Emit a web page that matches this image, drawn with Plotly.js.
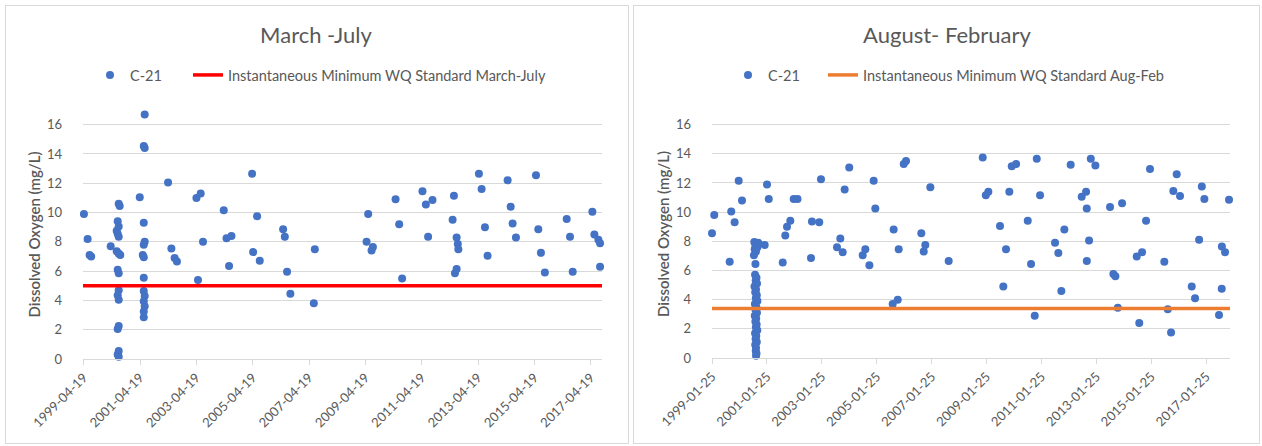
<!DOCTYPE html>
<html>
<head>
<meta charset="utf-8">
<script src="https://cdn.plot.ly/plotly-3.0.1.min.js"></script>
<style>
  html, body { margin:0; padding:0; background:#ffffff; }
  body { width:1262px; height:446px; position:relative; overflow:hidden; }
  .panel { position:absolute; border:1px solid #d9d9d9; box-sizing:border-box; }
  .plot { position:absolute; top:0; height:446px; }
</style>
</head>
<body>
<div class="panel" style="left:5px; top:5px; width:624px; height:439px;"></div>
<div class="panel" style="left:633px; top:5px; width:627px; height:439px;"></div>
<div id="chartA" class="plot" style="left:0; width:632px;"></div>
<div id="chartB" class="plot" style="left:632px; width:630px;"></div>
<script>
// ---------- March - July ----------
const titleA = "March -July";
const seriesName = "C-21";
const stdNameA = "Instantaneous Minimum WQ Standard March-July";
const stdValueA = 5;
const xRangeA = ["1999-04-10", "2017-09-12"];
const tickDatesA = ["1999-04-19","2001-04-19","2003-04-19","2005-04-19","2007-04-19","2009-04-19","2011-04-19","2013-04-19","2015-04-19","2017-04-19"];
const datesA = [
 "1999-04-22","1999-06-09","1999-07-05","1999-07-25","2000-04-03",
 "2000-07-16","2000-07-29","2000-07-03","2000-07-16","2000-06-20","2000-07-03","2000-07-16","2000-06-20","2000-07-16","2000-08-05",
 "2000-07-03","2000-07-16","2000-07-16","2000-07-03","2000-07-16","2000-07-16","2000-07-03","2000-07-16","2000-07-03","2000-07-16",
 "2001-06-18","2001-06-06","2001-06-18","2001-04-15","2001-06-06","2001-06-18","2001-06-06","2001-05-24","2001-06-06","2001-06-06",
 "2001-06-06","2001-06-18","2001-06-06","2001-06-18","2001-06-06","2001-06-06",
 "2002-04-17","2002-05-30","2002-07-11","2002-08-10",
 "2003-04-20","2003-05-10","2003-06-14","2003-07-14",
 "2004-04-08","2004-05-14","2004-06-16","2004-07-17",
 "2005-04-11","2005-04-24","2005-06-15","2005-07-19",
 "2006-05-18","2006-06-09","2006-07-08","2006-08-20",
 "2007-06-20","2007-07-03",
 "2009-05-04","2009-05-25","2009-07-08","2009-07-25",
 "2010-05-15","2010-07-01","2010-08-08",
 "2011-04-29","2011-06-12","2011-07-11","2011-09-06",
 "2012-05-24","2012-06-10","2012-06-23","2012-07-15","2012-07-15","2012-07-30","2012-08-06",
 "2013-04-30","2013-06-04","2013-07-17","2013-08-20",
 "2014-05-07","2014-06-16","2014-07-11","2014-08-23",
 "2015-05-10","2015-06-09","2015-07-13","2015-09-02",
 "2016-06-11","2016-07-24","2016-08-28",
 "2017-05-10","2017-06-05","2017-07-27","2017-08-18","2017-08-18"
];
const doA = [
 9.9,8.2,7.1,7.0,7.7,
 10.6,10.45,9.4,9.05,8.75,8.55,8.35,7.35,7.2,7.1,
 6.1,5.85,4.7,4.35,4.05,2.25,2.05,0.55,0.3,0.15,
 16.7,14.55,14.4,11.05,9.3,8.0,7.8,7.1,6.95,5.55,
 4.65,4.3,3.95,3.6,3.25,2.85,
 12.05,7.55,6.9,6.65,
 11.0,5.4,11.3,8.0,
 10.15,8.25,6.35,8.4,
 12.65,7.3,9.75,6.7,
 8.85,8.35,5.95,4.45,
 3.8,7.5,
 8.0,9.9,7.4,7.65,
 10.9,9.2,5.5,
 11.45,10.55,8.35,10.85,
 9.5,11.15,5.85,6.15,8.3,7.85,7.5,
 12.65,11.6,9.0,7.05,
 12.2,10.4,9.25,8.3,
 12.55,8.85,7.25,5.9,
 9.55,8.35,5.95,
 10.05,8.5,8.15,7.9,6.3
];

// ---------- August - February ----------
const titleB = "August- February";
const stdNameB = "Instantaneous Minimum WQ Standard Aug-Feb";
const stdValueB = 3.4;
const xRangeB = ["1999-01-25", "2017-12-08"];
const tickDatesB = ["1999-01-25","2001-01-25","2003-01-25","2005-01-25","2007-01-25","2009-01-25","2011-01-25","2013-01-25","2015-01-25","2017-01-25"];
const datesB = [
 "1999-01-25","1999-02-24","1999-09-17","1999-10-08","1999-11-22","2000-01-15","2000-02-28",
 "2000-08-10","2000-09-05","2000-08-25","2000-09-20","2000-08-15","2000-09-01","2000-08-05","2000-08-25","2000-10-01",
 "2000-08-20","2000-09-08","2000-08-28","2000-09-15","2000-08-12","2000-09-02","2000-08-22","2000-09-12","2000-08-30","2000-09-20",
 "2000-08-18","2000-09-06","2000-08-26","2000-09-14","2000-08-16","2000-09-04","2000-08-24","2000-09-10","2000-08-31","2000-09-18",
 "2000-08-20","2000-09-05","2000-08-27","2000-09-12","2000-08-22","2000-09-01","2000-08-29","2000-09-08","2000-09-02",
 "2000-12-26","2001-01-26","2001-02-18",
 "2001-08-23","2001-09-26","2001-10-19","2001-12-02","2002-01-16","2002-03-08",
 "2002-09-03","2002-09-16","2002-12-22","2003-01-14",
 "2003-08-15","2003-09-28","2003-10-30","2003-11-25","2004-01-25",
 "2004-07-22","2004-08-26","2004-10-19","2004-12-15","2005-01-06",
 "2005-08-25","2005-09-07","2005-10-31","2005-11-13","2006-01-19","2006-02-18",
 "2006-09-10","2006-10-12","2006-11-02","2007-01-08",
 "2007-09-09",
 "2008-12-05","2009-01-15","2009-02-18",
 "2009-07-23","2009-09-05","2009-10-11","2009-11-24","2009-12-26","2010-02-22",
 "2010-07-27","2010-09-09","2010-10-28","2010-11-24","2011-01-07",
 "2011-07-25","2011-09-07","2011-10-17","2011-11-26","2012-02-18",
 "2012-07-14","2012-09-10","2012-09-19","2012-09-20","2012-10-20","2012-11-12","2013-01-12",
 "2013-07-26","2013-09-08","2013-10-05","2013-11-06","2014-01-02",
 "2014-07-16","2014-08-19","2014-09-25","2014-11-17","2015-01-09",
 "2015-07-18","2015-09-02","2015-10-16","2015-11-15","2015-12-30","2016-02-12",
 "2016-07-17","2016-08-30","2016-10-23","2016-11-28","2017-01-01",
 "2017-07-15","2017-08-20","2017-08-22","2017-10-03","2017-11-25"
];
const doB = [
 8.55,9.8,6.6,10.05,9.3,12.15,10.8,
 7.95,7.85,7.7,7.6,7.45,7.3,7.05,6.45,7.9,
 5.7,5.5,5.3,5.1,4.9,4.7,4.5,4.3,4.1,3.9,
 3.7,3.5,3.3,3.1,2.9,2.7,2.5,2.3,2.1,1.9,
 1.7,1.5,1.3,1.1,0.9,0.7,0.5,0.3,0.15,
 7.75,11.9,10.9,
 6.55,8.4,9.0,9.4,10.9,10.9,
 6.85,9.35,9.3,12.25,
 7.6,8.2,7.25,11.55,13.05,
 7.05,7.45,6.35,12.15,10.25,
 3.7,8.8,4.0,7.45,13.3,13.5,
 8.55,7.3,7.75,11.7,
 6.65,
 13.75,11.15,11.4,
 9.05,4.9,7.45,11.4,13.15,13.3,
 9.4,6.45,2.9,13.65,11.15,
 7.9,7.2,4.6,8.8,13.25,
 11.05,11.4,10.25,6.65,8.05,13.65,13.2,
 10.35,5.75,5.6,3.45,10.6,
 6.95,2.4,7.25,9.4,12.95,
 6.6,3.35,1.75,11.45,12.6,11.1,
 4.9,4.1,8.1,11.75,10.9,
 2.95,4.75,7.65,7.25,10.85
];
const yTickVals = [0,2,4,6,8,10,12,14,16];
const yTitle = "Dissolved Oxygen (mg/L)";

const FONT = "Lato, 'Open Sans', sans-serif";
const TXT = "#595959";
const GRID = "#d9d9d9";

function makeChart(div, title, dates, vals, stdName, stdValue, stdColor, xRange, tickDates, W, m, legendX, legend2X) {
  const stdX = [xRange[0], xRange[1]];
  const traces = [
    { type:'scatter', mode:'markers', name: seriesName, x: dates, y: vals, legend:'legend',
      marker:{ color:'#4472C4', size:8 }, cliponaxis:false },
    { type:'scatter', mode:'lines', name: stdName, x: stdX, y: stdX.map(() => stdValue), legend:'legend2',
      line:{ color: stdColor, width:3.5 }, cliponaxis:false }
  ];
  const legendFont = { family: FONT, size: 14.5, color: TXT };
  const layout = {
    width: W, height: 446,
    margin: m,
    paper_bgcolor:'rgba(0,0,0,0)', plot_bgcolor:'rgba(0,0,0,0)',
    font:{ family: FONT, color: TXT, size: 12 },
    title:{ text: title, x:0.5, xref:'container', xanchor:'center', y: 1 - 35/446, yref:'container', yanchor:'middle',
            font:{ family: FONT, size: 22, color: TXT } },
    showlegend:true,
    legend:{ orientation:'h', x: legendX, xref:'container', xanchor:'left', y: 1 - 75/446, yref:'container', yanchor:'middle',
             font: legendFont, bgcolor:'rgba(0,0,0,0)' },
    legend2:{ orientation:'h', x: legend2X, xref:'container', xanchor:'left', y: 1 - 75/446, yref:'container', yanchor:'middle',
             font: legendFont, bgcolor:'rgba(0,0,0,0)' },
    xaxis:{ type:'date', range: xRange, tickmode:'array', tickvals: tickDates, ticktext: tickDates,
            tickangle:-45, showgrid:false, showline:true, linecolor:GRID, linewidth:1,
            ticks:'outside', ticklen:5, tickcolor:GRID, zeroline:false,
            tickfont:{ family: FONT, size: 13, color: TXT } },
    yaxis:{ range:[0,17], tickmode:'array', tickvals: yTickVals, showgrid:true, gridcolor:GRID, gridwidth:1,
            zeroline:false, showline:false, ticks:'', ticklabelstandoff: 20,
            tickfont:{ family: FONT, size: 13, color: TXT },
            title:{ text: yTitle, standoff: 2, font:{ family: FONT, size: 15, color: TXT, weight: 600 } } }
  };
  Plotly.newPlot(div, traces, layout, { staticPlot:true, displayModeBar:false });
}

makeChart('chartA', titleA, datesA, doA, stdNameA, stdValueA, '#FF0000', xRangeA, tickDatesA, 632,
          { l:83, r:30, t:110, b:87 }, 90/632, 188/632);
makeChart('chartB', titleB, datesB, doB, stdNameB, stdValueB, '#ED7D31', xRangeB, tickDatesB, 630,
          { l:80, r:32, t:110, b:88 }, 96/630, 191/630);
</script>
</body>
</html>
